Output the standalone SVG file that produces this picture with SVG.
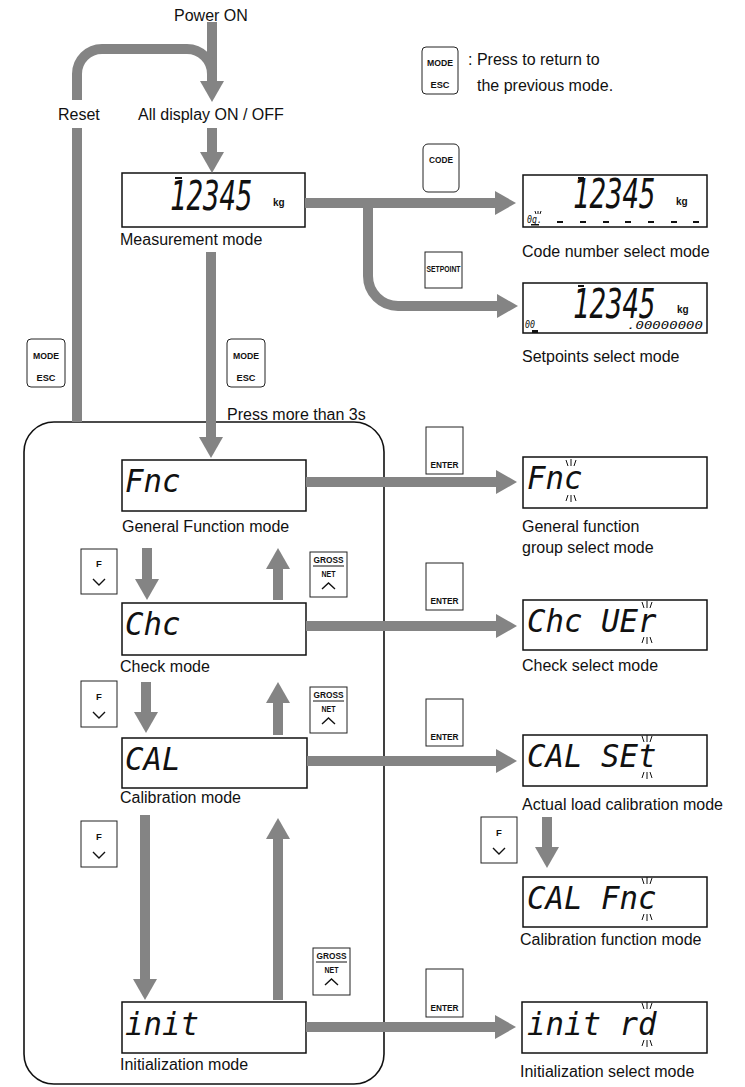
<svg xmlns="http://www.w3.org/2000/svg" width="745" height="1087" viewBox="0 0 745 1087">
<defs>
<style>
.lbl{font-family:"Liberation Sans",Arial,sans-serif;font-size:16px;fill:#111}
.seg{font-family:"DejaVu Sans Mono",monospace;font-style:italic;fill:#111}
.big{font-size:41px}
.mid{font-size:32px}
.sml{font-size:10px}
.kg{font-family:"Liberation Sans",Arial,sans-serif;font-weight:bold;font-size:10px;fill:#111}
.disp{fill:#fff;stroke:#111;stroke-width:1.5}
.key{fill:#fff;stroke:#222;stroke-width:1}
.ktxt{font-family:"Liberation Sans",Arial,sans-serif;font-weight:bold;font-size:9.5px;text-anchor:middle;fill:#111}
.chev{fill:none;stroke:#111;stroke-width:1.4}
.conn{fill:none;stroke:#848484;stroke-width:10}
.blink{fill:none;stroke:#111;stroke-width:1}
.frame{fill:none;stroke:#111;stroke-width:1.6}
</style>
<marker id="ah" markerUnits="userSpaceOnUse" markerWidth="22" markerHeight="24" viewBox="0 0 22 24" refX="1" refY="12" orient="auto">
<path d="M0,0 L21,12 L0,24 z" fill="#848484"/>
</marker>
</defs>
<rect width="745" height="1087" fill="#fff"/>

<!-- top labels -->
<g id="power-on"><text class="lbl" x="174" y="21">Power ON</text></g>
<g id="reset"><text class="lbl" x="58" y="120">Reset</text></g>
<g id="all-display"><text class="lbl" x="138" y="120">All display ON / OFF</text></g>

<!-- legend -->
<g id="legend">
<rect class="key" x="422" y="47" width="36" height="47" rx="4"/>
<text class="ktxt" x="440" y="66" textLength="26" lengthAdjust="spacingAndGlyphs">MODE</text>
<text class="ktxt" x="440" y="88" textLength="19" lengthAdjust="spacingAndGlyphs">ESC</text>
<text class="lbl" x="468" y="65">: Press to return to</text>
<text class="lbl" x="477" y="91">the previous mode.</text>
</g>

<!-- big frame -->
<g id="setting-frame"><rect class="frame" x="24" y="422" width="360" height="662" rx="30"/></g>

<!-- Measurement mode -->
<g id="measurement">
<rect class="disp" x="122" y="173" width="183" height="54"/>
<rect x="175" y="177" width="7" height="2" fill="#111"/>
<text class="seg big" transform="translate(170,210) scale(0.67,1)">12345</text>
<text class="kg" x="273" y="206">kg</text>
<text class="lbl" x="120" y="245">Measurement mode</text>
</g>

<!-- Code number select -->
<g id="code-select">
<rect class="disp" x="523" y="175" width="184" height="52"/>
<rect x="578" y="177" width="6" height="2" fill="#111"/>
<text class="seg big" transform="translate(573,208) scale(0.67,1)">12345</text>
<text class="kg" x="676" y="205">kg</text>
<text class="seg sml" x="527" y="223" textLength="15" lengthAdjust="spacingAndGlyphs">0g.</text>
<path class="blink" d="M535,211 L536,214 M538,211 L538,214 M541,211 L540,214"/>
<rect x="531" y="224" width="8" height="1.5" fill="#111"/>
<g fill="#111">
<rect x="557" y="221" width="6" height="2"/><rect x="580" y="221" width="6" height="2"/><rect x="603" y="221" width="6" height="2"/><rect x="625" y="221" width="6" height="2"/><rect x="648" y="221" width="6" height="2"/><rect x="671" y="221" width="6" height="2"/><rect x="693" y="221" width="6" height="2"/>
</g>
<text class="lbl" x="522" y="257">Code number select mode</text>
</g>

<!-- Setpoints select -->
<g id="setpoint-select">
<rect class="disp" x="523" y="283" width="184" height="50"/>
<rect x="578" y="285" width="6" height="2" fill="#111"/>
<text class="seg big" transform="translate(573,318) scale(0.67,1)">12345</text>
<text class="kg" x="677" y="313">kg</text>
<text class="seg sml" x="525" y="328" textLength="10" lengthAdjust="spacingAndGlyphs">00</text>
<rect x="532" y="330" width="6" height="3" fill="#111"/>
<text class="seg sml" x="627" y="329" textLength="76" lengthAdjust="spacingAndGlyphs">.00000000</text>
<text class="lbl" x="522" y="362">Setpoints select mode</text>
</g>

<!-- keys -->
<g id="key-code">
<rect class="key" x="423" y="144" width="36" height="48" rx="5"/>
<text class="ktxt" x="441" y="163" textLength="24" lengthAdjust="spacingAndGlyphs">CODE</text>
</g>
<g id="key-setpoint">
<rect class="key" x="425" y="252" width="37" height="36"/>
<text class="ktxt" x="443.5" y="272" font-size="8.5" textLength="34" lengthAdjust="spacingAndGlyphs">SETPOINT</text>
</g>
<g id="key-mode-left">
<rect class="key" x="27" y="339" width="38" height="48" rx="4"/>
<text class="ktxt" x="46" y="359" textLength="26" lengthAdjust="spacingAndGlyphs">MODE</text>
<text class="ktxt" x="46" y="381" textLength="19" lengthAdjust="spacingAndGlyphs">ESC</text>
</g>
<g id="key-mode-mid">
<rect class="key" x="227" y="339" width="38" height="48" rx="4"/>
<text class="ktxt" x="246" y="359" textLength="26" lengthAdjust="spacingAndGlyphs">MODE</text>
<text class="ktxt" x="246" y="381" textLength="19" lengthAdjust="spacingAndGlyphs">ESC</text>
<text class="lbl" x="227" y="420">Press more than 3s</text>
</g>

<!-- General Function mode -->
<g id="fnc">
<rect class="disp" x="122" y="460" width="184" height="51"/>
<text class="seg mid" x="125" y="492" textLength="55.5" lengthAdjust="spacingAndGlyphs">Fnc</text>
<text class="lbl" x="122" y="532">General Function mode</text>
</g>
<g id="fnc-select">
<rect class="disp" x="523" y="457" width="184" height="51"/>
<text class="seg mid" x="527" y="489" textLength="55.5" lengthAdjust="spacingAndGlyphs">Fnc</text>
<path class="blink" d="M566,460 L568,466 M571,459 V466 M576,460 L574,466 M568,495 L566,501 M571,495 V502 M574,495 L576,501"/>
<text class="lbl" x="522" y="532">General function</text>
<text class="lbl" x="522" y="553">group select mode</text>
</g>
<g id="key-enter-1">
<rect class="key" x="426" y="427" width="37" height="47"/>
<text class="ktxt" x="444.5" y="468" textLength="28" lengthAdjust="spacingAndGlyphs">ENTER</text>
</g>
<g id="key-f-1">
<rect class="key" x="81" y="549" width="36" height="45"/>
<text class="ktxt" x="99" y="567">F</text>
<polyline class="chev" points="93,579 99,585 105,579"/>
</g>
<g id="key-gross-1">
<rect class="key" x="310" y="552" width="37" height="45"/>
<text class="ktxt" x="328.5" y="563" textLength="30" lengthAdjust="spacingAndGlyphs">GROSS</text>
<line x1="313" y1="566" x2="344" y2="566" stroke="#111" stroke-width="1"/>
<text class="ktxt" x="328.5" y="577" textLength="14" lengthAdjust="spacingAndGlyphs">NET</text>
<polyline class="chev" points="322,589 328.5,583 335,589"/>
</g>

<!-- Check mode -->
<g id="chc">
<rect class="disp" x="122" y="603" width="184" height="52"/>
<text class="seg mid" x="125" y="635" textLength="55.5" lengthAdjust="spacingAndGlyphs">Chc</text>
<text class="lbl" x="120" y="672">Check mode</text>
</g>
<g id="chc-select">
<rect class="disp" x="523" y="600" width="184" height="50"/>
<text class="seg mid" x="527" y="632" textLength="129.5" lengthAdjust="spacingAndGlyphs">Chc UEr</text>
<path class="blink" d="M642,602 L644,608 M647,601 V608 M652,602 L650,608 M644,637 L642,643 M647,637 V644 M650,637 L652,643"/>
<text class="lbl" x="522" y="671">Check select mode</text>
</g>
<g id="key-enter-2">
<rect class="key" x="426" y="563" width="37" height="47"/>
<text class="ktxt" x="444.5" y="604" textLength="28" lengthAdjust="spacingAndGlyphs">ENTER</text>
</g>
<g id="key-f-2">
<rect class="key" x="81" y="681" width="36" height="46"/>
<text class="ktxt" x="99" y="700">F</text>
<polyline class="chev" points="93,712 99,718 105,712"/>
</g>
<g id="key-gross-2">
<rect class="key" x="310" y="687" width="37" height="46"/>
<text class="ktxt" x="328.5" y="698" textLength="30" lengthAdjust="spacingAndGlyphs">GROSS</text>
<line x1="313" y1="701" x2="344" y2="701" stroke="#111" stroke-width="1"/>
<text class="ktxt" x="328.5" y="712" textLength="14" lengthAdjust="spacingAndGlyphs">NET</text>
<polyline class="chev" points="322,724 328.5,718 335,724"/>
</g>

<!-- Calibration mode -->
<g id="cal">
<rect class="disp" x="122" y="738" width="185" height="50"/>
<text class="seg mid" x="125" y="770" textLength="55.5" lengthAdjust="spacingAndGlyphs">CAL</text>
<text class="lbl" x="120" y="803">Calibration mode</text>
</g>
<g id="cal-set">
<rect class="disp" x="523" y="735" width="184" height="51"/>
<text class="seg mid" x="527" y="767" textLength="129.5" lengthAdjust="spacingAndGlyphs">CAL SEt</text>
<path class="blink" d="M642,736 L644,742 M647,735 V742 M652,736 L650,742 M644,772 L642,778 M647,772 V779 M650,772 L652,778"/>
<text class="lbl" x="522" y="810">Actual load calibration mode</text>
</g>
<g id="key-enter-3">
<rect class="key" x="426" y="699" width="37" height="47"/>
<text class="ktxt" x="444.5" y="740" textLength="28" lengthAdjust="spacingAndGlyphs">ENTER</text>
</g>
<g id="key-f-3">
<rect class="key" x="81" y="821" width="36" height="46"/>
<text class="ktxt" x="99" y="840">F</text>
<polyline class="chev" points="93,852 99,858 105,852"/>
</g>
<g id="key-f-right">
<rect class="key" x="481" y="817" width="36" height="46"/>
<text class="ktxt" x="499" y="836">F</text>
<polyline class="chev" points="493,848 499,854 505,848"/>
</g>
<g id="cal-fnc">
<rect class="disp" x="523" y="877" width="184" height="50"/>
<text class="seg mid" x="527" y="909" textLength="129.5" lengthAdjust="spacingAndGlyphs">CAL Fnc</text>
<path class="blink" d="M642,878 L644,884 M647,877 V884 M652,878 L650,884 M644,914 L642,920 M647,914 V921 M650,914 L652,920"/>
<text class="lbl" x="520" y="945">Calibration function mode</text>
</g>

<!-- Initialization mode -->
<g id="init">
<rect class="disp" x="122" y="1002" width="184" height="51"/>
<text class="seg mid" x="125" y="1035" textLength="74" lengthAdjust="spacingAndGlyphs">init</text>
<text class="lbl" x="120" y="1070">Initialization mode</text>
</g>
<g id="init-select">
<rect class="disp" x="522" y="1002" width="185" height="51"/>
<text class="seg mid" x="527" y="1035" textLength="129.5" lengthAdjust="spacingAndGlyphs">init rd</text>
<path class="blink" d="M642,1003 L644,1009 M647,1002 V1009 M652,1003 L650,1009 M644,1040 L642,1046 M647,1040 V1047 M650,1040 L652,1046"/>
<text class="lbl" x="520" y="1077">Initialization select mode</text>
</g>
<g id="key-gross-3">
<rect class="key" x="313" y="948" width="37" height="47"/>
<text class="ktxt" x="331.5" y="959" textLength="30" lengthAdjust="spacingAndGlyphs">GROSS</text>
<line x1="316" y1="962" x2="347" y2="962" stroke="#111" stroke-width="1"/>
<text class="ktxt" x="331.5" y="973" textLength="14" lengthAdjust="spacingAndGlyphs">NET</text>
<polyline class="chev" points="325,985 331.5,979 338,985"/>
</g>
<g id="key-enter-4">
<rect class="key" x="426" y="969" width="37" height="48"/>
<text class="ktxt" x="444.5" y="1011" textLength="28" lengthAdjust="spacingAndGlyphs">ENTER</text>
</g>

<!-- connectors -->
<g id="connectors">
<path class="conn" d="M212,22 V82" marker-end="url(#ah)"/>
<path class="conn" d="M77,100 V74 A25,25 0 0 1 102,49 H187 A25,25 0 0 1 212,74"/>
<path class="conn" d="M212,128 V153" marker-end="url(#ah)"/>
<path class="conn" d="M77,128 V422"/>
<path class="conn" d="M305,203 H496" marker-end="url(#ah)"/>
<path class="conn" d="M368,203 V276 A30,30 0 0 0 398,306 H498" marker-end="url(#ah)"/>
<path class="conn" d="M211,252 V438" marker-end="url(#ah)"/>
<path class="conn" d="M306,482 H497" marker-end="url(#ah)"/>
<path class="conn" d="M306,626 H497" marker-end="url(#ah)"/>
<path class="conn" d="M307,761 H497" marker-end="url(#ah)"/>
<path class="conn" d="M306,1027 H496" marker-end="url(#ah)"/>
<path class="conn" d="M147,548 V580" marker-end="url(#ah)"/>
<path class="conn" d="M278,600 V568" marker-end="url(#ah)"/>
<path class="conn" d="M146,682 V713" marker-end="url(#ah)"/>
<path class="conn" d="M278,735 V702" marker-end="url(#ah)"/>
<path class="conn" d="M145,815 V980" marker-end="url(#ah)"/>
<path class="conn" d="M278,1000 V838" marker-end="url(#ah)"/>
<path class="conn" d="M547,817 V848" marker-end="url(#ah)"/>
</g>
</svg>
